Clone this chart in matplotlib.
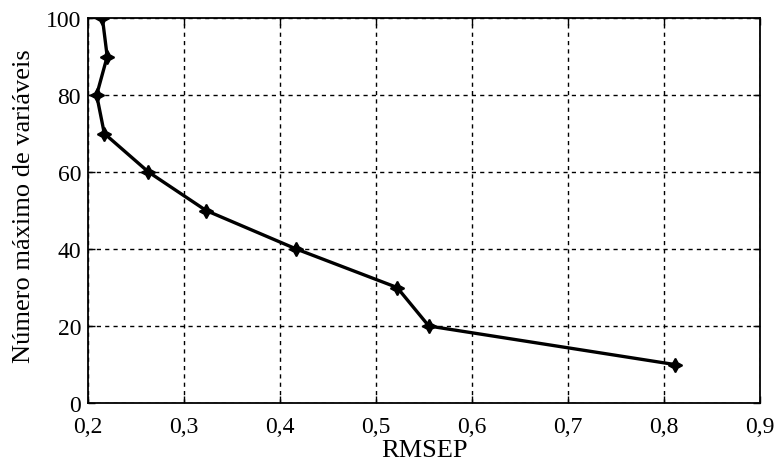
import matplotlib
matplotlib.use("Agg")
import matplotlib.pyplot as plt
import numpy as np

# dados
max_vars = [10, 20, 30, 40, 50, 60, 70, 80, 90, 100]
rmsep = [0.811, 0.555, 0.522, 0.417, 0.323, 0.263, 0.217, 0.209, 0.220, 0.215]

xticks = [0.2, 0.3, 0.4, 0.5, 0.6, 0.7, 0.8, 0.9]
xticklabels = ['0,2', '0,3', '0,4', '0,5', '0,6', '0,7', '0,8', '0,9']
yticks = [0, 20, 40, 60, 80, 100]

plt.rcParams['font.family'] = ['Liberation Serif', 'DejaVu Serif']

fig = plt.figure(figsize=(7.76, 4.64), dpi=100)
ax = fig.add_axes([0.1134, 0.1293, 0.8660, 0.8297])

ax.plot(rmsep, max_vars, color='black', linewidth=2.4,
        marker=(4, 1, 0), markersize=10, markeredgewidth=1.2, zorder=3)

ax.set_xlim(0.2, 0.9)
ax.set_ylim(0, 100)
ax.set_xticks(xticks)
ax.set_xticklabels(xticklabels)
ax.set_yticks(yticks)

ax.grid(True, color='black', linestyle=(0, (3, 3)), linewidth=1.0)
ax.tick_params(direction='in', length=5, width=1, labelsize=17,
               top=True, right=True)
ax.tick_params(axis='x', pad=9)
ax.tick_params(axis='y', pad=5)
for s in ax.spines.values():
    s.set_linewidth(1.3)

ax.set_xlabel('RMSEP', fontsize=19, labelpad=2)
ax.set_ylabel('Número máximo de variáveis', fontsize=19)
ax.yaxis.set_label_coords(-0.079, 0.514)

fig.savefig('out.png', dpi=100)
